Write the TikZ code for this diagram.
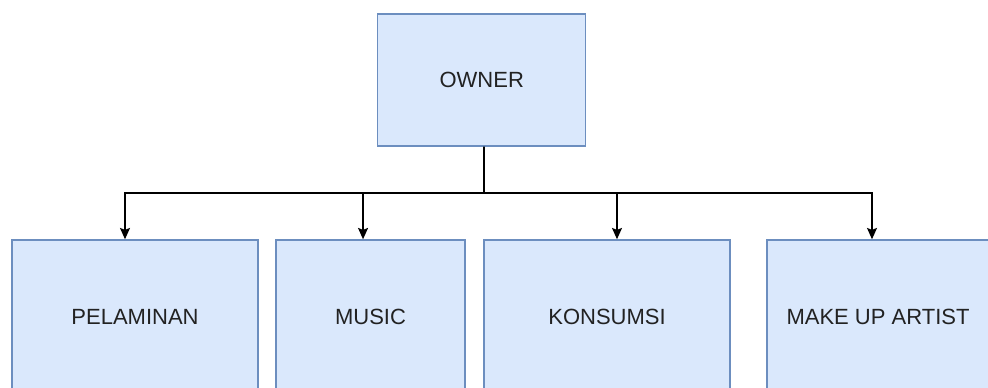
\documentclass[tikz,border=0pt]{standalone}
\usepackage{fontspec}
\setmainfont{Liberation Sans}
\usetikzlibrary{arrows.meta}
\definecolor{boxfill}{HTML}{DAE8FC}
\definecolor{boxline}{HTML}{6C8EBF}
\definecolor{txt}{HTML}{222222}
\tikzset{
  orgbox/.style={rectangle, draw=boxline, fill=boxfill, line width=1.1pt,
    inner sep=0pt, text=txt, font=\fontsize{16.5pt}{19pt}\selectfont},
  conn/.style={draw=black, line width=1.2pt},
  arr/.style={conn, -{Stealth[length=8.5pt,width=7.5pt,inset=1.5pt]}}
}
\begin{document}
\begin{tikzpicture}[x=0.75pt,y=-0.75pt]
\useasboundingbox (0,0) rectangle (988,388);
\clip (0,0) rectangle (988,388);
\node[orgbox, minimum width=156pt, minimum height=99pt] (owner) at (481.75,80) {OWNER};
\node[orgbox, minimum width=184.5pt, minimum height=115.5pt] (pel) at (135,317) {PELAMINAN};
\node[orgbox, minimum width=141.75pt, minimum height=115.5pt] (mus) at (370.5,317) {MUSIC};
\node[orgbox, minimum width=184.5pt, minimum height=115.5pt] (kon) at (607,317) {KONSUMSI};
\node[orgbox, minimum width=166.5pt, minimum height=115.5pt] (mua) at (878,317) {MAKE UP ARTIST};
\coordinate (bus) at (484,193);
\draw[conn] ([xshift=1.7pt]owner.south) -- (bus);
\draw[arr] (bus) -| ([xshift=-7.5pt]pel.north);
\draw[arr] (bus) -| ([xshift=-5.6pt]mus.north);
\draw[arr] (bus) -| ([xshift=7.5pt]kon.north);
\draw[arr] (bus) -| ([xshift=-4.5pt]mua.north);
\end{tikzpicture}
\end{document}
